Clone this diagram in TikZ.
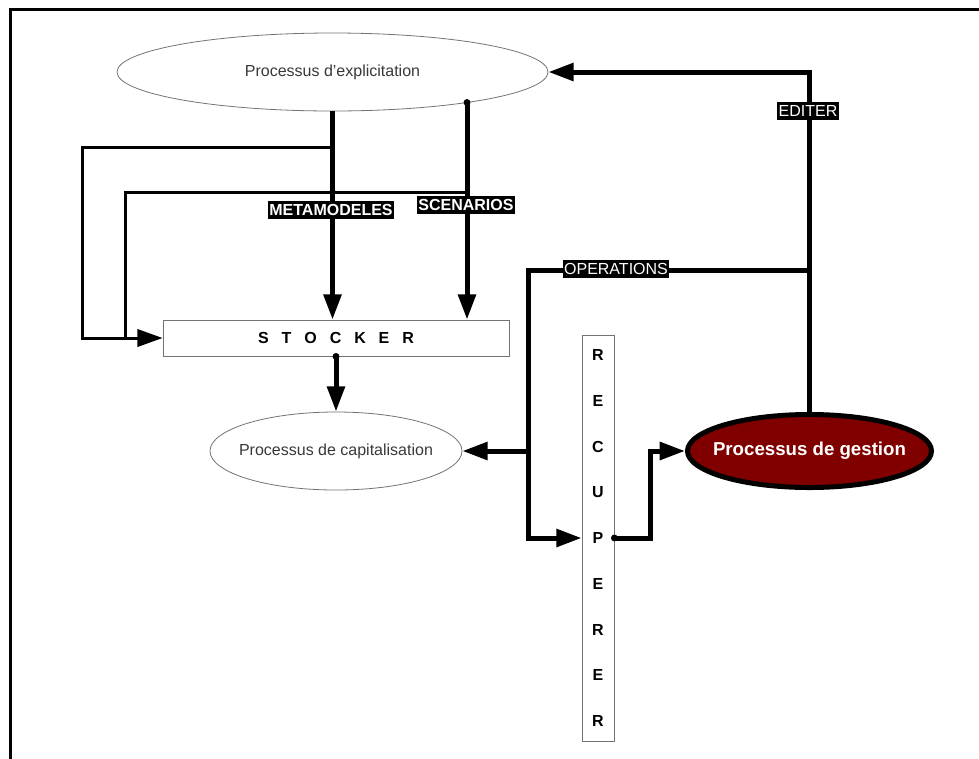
\documentclass[tikz,border=0pt]{standalone}
\usepackage{fontspec}
\setmainfont{Liberation Sans}
\usetikzlibrary{arrows.meta,shapes.geometric,calc}
\definecolor{gestred}{HTML}{800000}
\begin{document}
\begin{tikzpicture}[x=0.75pt,y=-0.75pt,
  every node/.style={font=\fontsize{12pt}{14pt}\selectfont},
  proc/.style={ellipse,draw=black!55,line width=0.6pt,inner sep=0pt,text=black!78},
  boxed/.style={rectangle,draw=black!55,line width=0.6pt,inner sep=0pt},
  tag/.style={fill=black,text=white,inner xsep=1.2pt,inner ysep=2.4pt,font=\fontsize{12pt}{13pt}\selectfont},
  btag/.style={tag,font=\bfseries\fontsize{12pt}{13pt}\selectfont},
  letter/.style={font=\bfseries\fontsize{12pt}{14pt}\selectfont,inner sep=0pt},
  heavy/.style={line width=3.75pt},
  medium/.style={line width=2.25pt},
  tip/.style={-{Triangle[length=19pt,width=13pt]}}]
\useasboundingbox (0,0) rectangle (979,758);
% frame
\draw[line width=2.25pt] (10,800) -- (10,9) -- (1000,9);

% nodes
\node[proc,minimum width=323.25pt,minimum height=58.5pt] (expl) at (332.5,72) {\makebox[0pt]{Processus d’explicitation}};
\node[proc,minimum width=189pt,minimum height=58.5pt] (capi) at (336,451) {\makebox[0pt]{Processus de capitalisation}};
\node[ellipse,draw=black,line width=3.75pt,fill=gestred,text=white,
      font=\bfseries\fontsize{14pt}{16pt}\selectfont,
      minimum width=183pt,minimum height=54.75pt,inner sep=0pt] (gest) at (809.5,451) {\makebox[0pt]{Processus de gestion}};
\node[boxed,minimum width=259.5pt,minimum height=27pt] (stock) at (336,338)
  {\bfseries S\hspace{9.7pt}T\hspace{9.7pt}O\hspace{9.7pt}C\hspace{9.7pt}K\hspace{9.7pt}E\hspace{9.7pt}R};
\node[boxed,minimum width=24pt,minimum height=304.5pt] (recup) at (598,538) {};
\foreach \l [count=\i from 0] in {R,E,C,U,P,E,R,E,R}
  \node[letter] (L\i) at (598,355+45.75*\i) {\l};

% coordinates
\coordinate (sc) at (467,102.5);
\coordinate (j1) at (332.5,147);
\coordinate (j2) at (467,192);
\coordinate (op) at (809,270);
\coordinate (bus) at (528,270);

% explicitation -> stocker
\draw[heavy,tip] (expl.south) -- (expl.south |- stock.north);
\draw[heavy,tip] (sc) -- (sc |- stock.north);
\fill (sc) circle (2.6pt);
\draw[medium,tip] (j1) -- (82,147) -- (82,338) -- (stock.west);
\draw[medium] (j2) -- (125,192) -- (125,338);
\fill (332.5,192) circle (2.4pt);

% stocker -> capitalisation
\draw[heavy,tip] (stock.south) -- (capi.north);
\fill (stock.south) circle (2.6pt);

% gestion -> explicitation (EDITER)
\draw[heavy,tip] (gest.north) -- (gest.north |- expl.east) -- (expl.east);
% OPERATIONS
\draw[heavy,tip] (gest.north |- op) -- (bus) -- (bus |- recup.west) -- (recup.west);
\draw[heavy,tip] (bus |- capi.east) -- (capi.east);
% recuperer -> gestion
\draw[heavy,tip] (recup.east) -- (650,538) -- (650,451) -- (gest.west);
\fill (recup.east) circle (2.6pt);

% labels
\node[btag] (lmeta) at (331,210) {METAMODELES};
\node[btag] (lscen) at (466,205) {SCENARIOS};
\node[tag] (lop) at (616,269) {OPERATIONS};
\node[tag] (led) at (808,111) {EDITER};
\end{tikzpicture}
\end{document}
